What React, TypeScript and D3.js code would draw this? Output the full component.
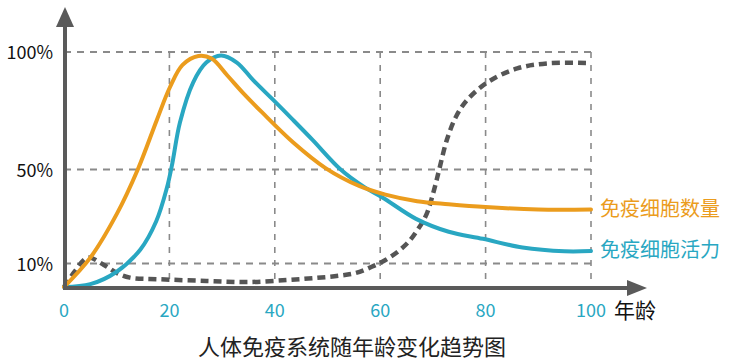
import React, { FC, useMemo } from 'react';
import * as d3 from 'd3';

// Series (age, percent)
const countAges = [0, 5, 10, 14, 17.6, 20.1, 22.5, 25.5, 28, 31, 34, 37.5, 43.5, 49.7, 56, 61, 67, 73, 80, 90, 100];
const countValues = [0, 12.5, 31, 50, 71, 85, 94.5, 98.3, 97.2, 90, 82.5, 74.5, 61.5, 50.5, 43, 39.3, 36.5, 35.2, 34, 33, 33];

const vitalityAges = [0, 5, 10, 14.5, 17.5, 19.5, 20.5, 22, 24.5, 27, 29.8, 32.8, 35.9, 39.7, 43.5, 47.2, 52.5, 57, 60.5, 66.8, 73, 79.5, 87, 95, 100];
const vitalityValues = [0, 1.2, 6.5, 16, 28, 42, 52, 70, 87, 95.5, 98.5, 95.5, 88, 79.6, 71, 62.5, 50, 42.5, 38, 29, 23.5, 20.5, 16.8, 15.2, 15.3];

const baseAges = [0, 2, 4.5, 7.5, 10, 12.5, 18, 27, 35, 42.5, 48, 52.2, 55.4, 58.4, 61, 63.6, 65.5, 67, 68.8, 70.3, 71.2, 72.7, 74.5, 76.5, 80.3, 86, 92, 100];
const baseValues = [0, 6.5, 12.5, 9.5, 6, 4, 3.3, 2.6, 2.1, 3, 3.9, 4.8, 6, 8.6, 11.5, 15.5, 19.5, 24, 31, 42, 50, 63, 73, 79.6, 87, 93, 95.2, 95.3];

const xTicks = [0, 20, 40, 60, 80, 100];
const yTicks = [10, 50, 100];
const yTickLabels = ['10%', '50%', '100%'];
const seriesNames = ['免疫细胞数量', '免疫细胞活力'];
const xAxisName = '年龄';
const chartTitle = '人体免疫系统随年龄变化趋势图';

const ORANGE = '#eb9c1d';
const TEAL = '#29a7c2';
const GRAY = '#5a5a5a';
const GRID = '#8a8a8a';
const FONT = '"Noto Sans CJK SC", "Noto Sans", sans-serif';

const W = 730;
const H = 364;

const App: FC = () => {
  const x = useMemo(() => d3.scaleLinear().domain([0, 100]).range([64, 591]), []);
  const y = useMemo(() => d3.scaleLinear().domain([0, 100]).range([287, 52]), []);

  const line = d3
    .line<[number, number]>()
    .x(d => x(d[0]))
    .y(d => y(d[1]))
    .curve(d3.curveCatmullRom.alpha(0.5));

  const countPath = line(countAges.map((a, i) => [a, countValues[i]]));
  const vitalityPath = line(vitalityAges.map((a, i) => [a, vitalityValues[i]]));
  const basePath = line(baseAges.map((a, i) => [a, baseValues[i]]));

  const x0 = x(0);
  const axisY = 288;
  const top = y(100);

  return (
    <div style={{ position: 'absolute', left: 0, top: 0 }}>
      <svg width={W} height={H} style={{ display: 'block', background: '#fff' }} fontFamily={FONT}>
        {/* grid */}
        {yTicks.map(t => (
          <line key={`h${t}`} x1={x0} x2={x(100)} y1={y(t)} y2={y(t)}
            stroke={GRID} strokeWidth={2} strokeDasharray="7 6" />
        ))}
        {xTicks.filter(t => t > 0).map(t => (
          <line key={`v${t}`} x1={x(t)} x2={x(t)} y1={top} y2={axisY}
            stroke={GRID} strokeWidth={1.6} strokeDasharray="6 7" />
        ))}

        {/* curves */}
        <path d={basePath || undefined} fill="none" stroke="#555" strokeWidth={4.5} strokeDasharray="8 5" />
        <path d={vitalityPath || undefined} fill="none" stroke={TEAL} strokeWidth={4} strokeLinecap="round" />
        <path d={countPath || undefined} fill="none" stroke={ORANGE} strokeWidth={4} strokeLinecap="round" />

        {/* axes */}
        <line x1={x0 + 1} x2={x0 + 1} y1={axisY + 2} y2={22} stroke={GRAY} strokeWidth={4} />
        <path d={`M${x0 + 1},7 L${x0 - 8},27 L${x0 + 10},27 Z`} fill={GRAY} />
        <line x1={x0 - 1} x2={632} y1={axisY} y2={axisY} stroke={GRAY} strokeWidth={4} />
        <path d={`M647,${axisY} L627,${axisY - 8} L627,${axisY + 8} Z`} fill={GRAY} />

        {/* tick labels */}
        {yTicks.map((t, i) => (
          <text key={`yl${t}`} x={53} y={y(t) + 7} textAnchor="end" fontSize={18} fill="#111">
            {yTickLabels[i]}
          </text>
        ))}
        {xTicks.map(t => (
          <text key={`xl${t}`} x={x(t)} y={317} textAnchor="middle" fontSize={18} fill={TEAL}>
            {t}
          </text>
        ))}
        <text x={614} y={318} fontSize={21} fill="#111">{xAxisName}</text>

        {/* series labels */}
        <text x={600} y={216} fontSize={20} fill={ORANGE}>{seriesNames[0]}</text>
        <text x={600} y={257} fontSize={20} fill={TEAL}>{seriesNames[1]}</text>

        {/* title */}
        <text x={352} y={355} textAnchor="middle" fontSize={22} fill="#222">{chartTitle}</text>
      </svg>
    </div>
  );
};

export default App;
